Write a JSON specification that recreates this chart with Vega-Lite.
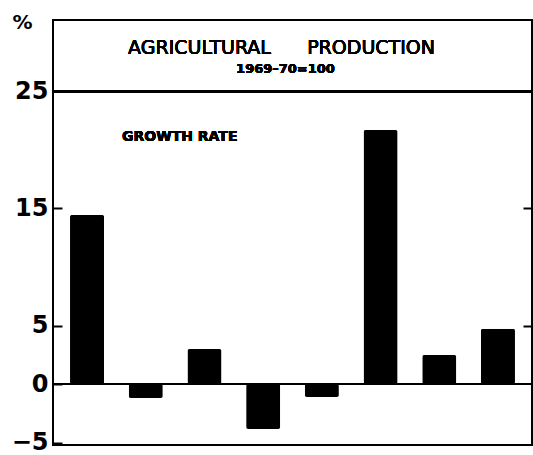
{
  "$schema": "https://vega.github.io/schema/vega-lite/v6.json",
  "autosize": "none",
  "width": 479,
  "height": 425,
  "padding": {"left": 53, "top": 20, "right": 1, "bottom": 10},
  "background": "white",
  "config": {
    "view": {"stroke": "black", "strokeWidth": 2},
    "font": "DejaVu Sans"
  },
  "resolve": {"axis": {"y": "independent"}},
  "data": {
    "values": [
      {"year": "1970-71", "growth": 14.45},
      {"year": "1971-72", "growth": -1.18},
      {"year": "1972-73", "growth": 3.0},
      {"year": "1973-74", "growth": -3.83},
      {"year": "1974-75", "growth": -1.09},
      {"year": "1975-76", "growth": 21.7},
      {"year": "1976-77", "growth": 2.49},
      {"year": "1977-78", "growth": 4.72}
    ]
  },
  "layer": [
    {
      "mark": {"type": "bar", "color": "black", "cornerRadius": 2},
      "encoding": {
        "x": {
          "field": "year",
          "type": "nominal",
          "sort": null,
          "scale": {"paddingInner": 0.42, "paddingOuter": 0.29},
          "axis": null
        },
        "y": {
          "field": "growth",
          "type": "quantitative",
          "scale": {"domain": [-5.2, 31.1], "nice": false, "zero": false},
          "axis": {
            "orient": "left",
            "offset": -9,
            "values": [-5, 0, 5, 15, 25],
            "grid": false,
            "domain": false,
            "tickSize": 9,
            "tickWidth": 2,
            "tickColor": "black",
            "labelPadding": 5,
            "labelFont": "DejaVu Sans",
            "labelFontWeight": "bold",
            "labelFontSize": 24,
            "labelColor": "black",
            "title": "%",
            "titleAngle": 0,
            "titleX": -40,
            "titleY": 2,
            "titleAlign": "center",
            "titleBaseline": "middle",
            "titleFont": "DejaVu Sans",
            "titleFontSize": 20,
            "titleFontWeight": "bold",
            "titleColor": "black"
          }
        }
      }
    },
    {
      "mark": {"type": "rule", "color": "black", "strokeWidth": 2},
      "encoding": {
        "y": {
          "datum": 0,
          "type": "quantitative",
          "axis": {
            "orient": "right",
            "offset": -9,
            "values": [5, 15],
            "labels": false,
            "grid": false,
            "domain": false,
            "tickSize": 9,
            "tickWidth": 2,
            "tickColor": "black",
            "title": null
          }
        }
      }
    },
    {
      "mark": {"type": "rule", "color": "black", "strokeWidth": 2},
      "encoding": {"y": {"datum": 25, "type": "quantitative", "axis": null}}
    },
    {
      "mark": {"type": "text", "font": "DejaVu Sans", "fontWeight": "normal", "fontSize": 19, "color": "black", "baseline": "middle", "dx": -11},
      "encoding": {
        "y": {"datum": 28.75, "type": "quantitative", "axis": null},
        "text": {"value": "AGRICULTURAL\u00a0\u00a0\u00a0\u00a0\u00a0\u00a0PRODUCTION"}
      }
    },
    {
      "mark": {"type": "text", "font": "DejaVu Sans", "fontWeight": "bold", "fontSize": 13, "color": "black", "baseline": "middle", "dx": -7},
      "encoding": {
        "y": {"datum": 26.9, "type": "quantitative", "axis": null},
        "text": {"value": "1969–70=100"}
      }
    },
    {
      "mark": {"type": "text", "font": "DejaVu Sans", "fontWeight": "bold", "fontSize": 14, "color": "black", "baseline": "middle", "align": "left", "dx": 18},
      "encoding": {
        "x": {"datum": "1970-71", "bandPosition": 1},
        "y": {"datum": 21.1, "type": "quantitative", "axis": null},
        "text": {"value": "GROWTH RATE"}
      }
    }
  ]
}
